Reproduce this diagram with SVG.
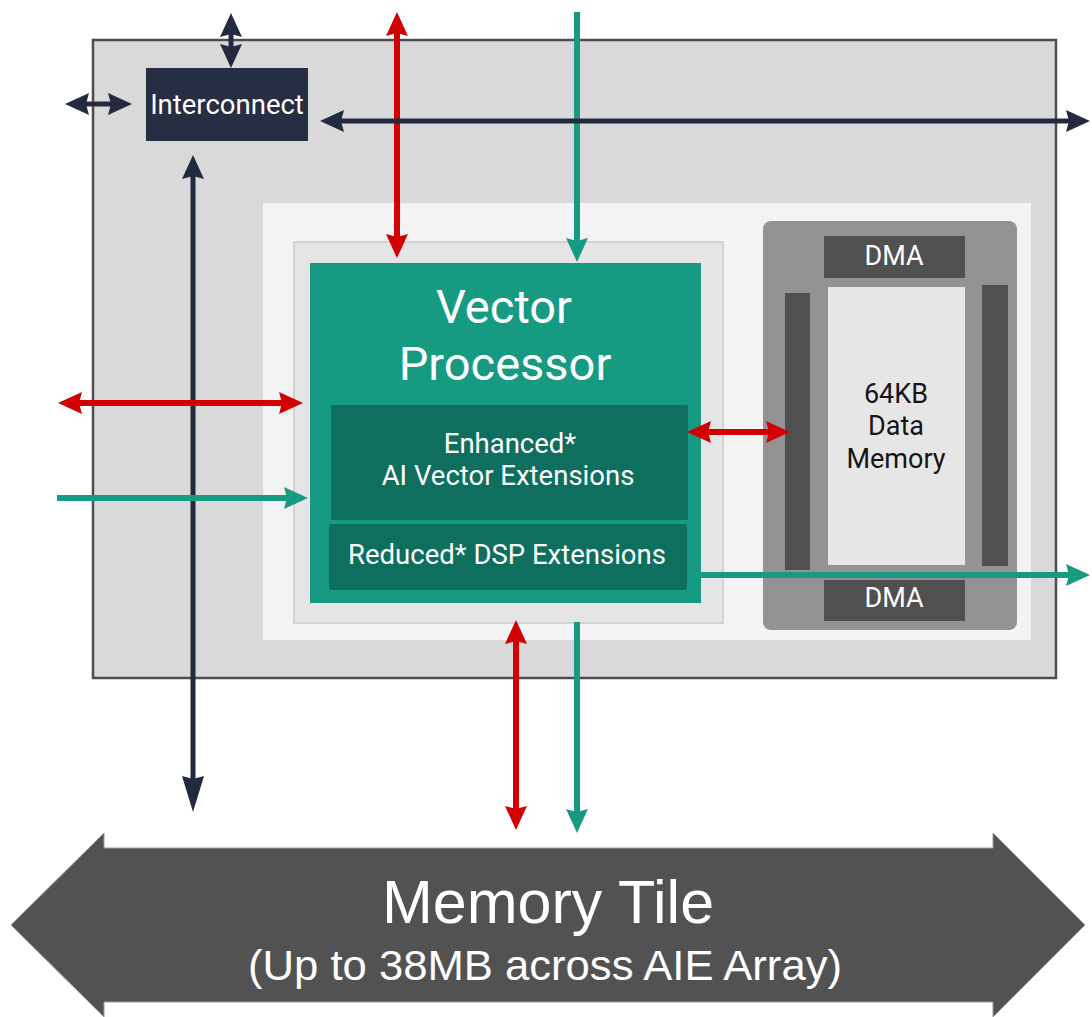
<svg xmlns="http://www.w3.org/2000/svg" width="1092" height="1017" viewBox="0 0 1092 1017">
  <style>
    .lbl { font-family: Roboto, "Liberation Sans", Arial, sans-serif; fill: #ffffff; text-anchor: middle; }
    .dark { fill: #151515; }
    .tile { font-family: "Liberation Sans", Arial, Helvetica, sans-serif; fill: #ffffff; text-anchor: middle; }
    .navy { stroke: #232a40; stroke-width: 5; fill: none; }
    .red { stroke: #d20000; stroke-width: 6; fill: none; }
    .teal { stroke: #169b82; stroke-width: 6; fill: none; }
    .bar { fill: #505050; }
  </style>
  <defs>
    <marker id="ah-navy" viewBox="0 0 24 24" refX="3" refY="12" markerWidth="24" markerHeight="24" markerUnits="userSpaceOnUse" orient="auto-start-reverse">
      <path d="M0,1 L24,12 L0,23 L3,12 z" fill="#232a40"/>
    </marker>
    <marker id="ah-navy-long" viewBox="0 0 36 24" refX="3" refY="12" markerWidth="36" markerHeight="24" markerUnits="userSpaceOnUse" orient="auto-start-reverse">
      <path d="M0,1 L36,12 L0,23 L3,12 z" fill="#232a40"/>
    </marker>
    <marker id="ah-red" viewBox="0 0 24 24" refX="3" refY="12" markerWidth="24" markerHeight="24" markerUnits="userSpaceOnUse" orient="auto-start-reverse">
      <path d="M0,1 L24,12 L0,23 L3,12 z" fill="#d20000"/>
    </marker>
    <marker id="ah-teal" viewBox="0 0 24 24" refX="3" refY="12" markerWidth="24" markerHeight="24" markerUnits="userSpaceOnUse" orient="auto-start-reverse">
      <path d="M0,1 L24,12 L0,23 L3,12 z" fill="#169b82"/>
    </marker>
  </defs>

  <!-- tile enclosure -->
  <g id="tile-frame">
    <rect x="93" y="40" width="963" height="638" fill="#d9d9d9" stroke="#4d4d4d" stroke-width="2.5"/>
    <rect x="263" y="203" width="768" height="437" fill="#f3f3f3"/>
  </g>

  <g id="interconnect">
    <rect x="146" y="68" width="162" height="73" fill="#272d42"/>
    <text class="lbl" x="227" y="114" font-size="27.5">Interconnect</text>
  </g>

  <g id="vector-processor">
    <rect x="294" y="242" width="429" height="381" fill="#e5e5e5" stroke="#d2d2d2" stroke-width="2"/>
    <rect x="310" y="263" width="391" height="340" fill="#169b82"/>
    <text class="lbl" x="504" y="323" font-size="47">Vector</text>
    <text class="lbl" x="505" y="380" font-size="47">Processor</text>
  </g>

  <g id="ai-vector-ext">
    <rect x="331" y="405" width="357" height="115" rx="2" fill="#0e6f5e"/>
    <text class="lbl" x="510" y="453" font-size="27.5">Enhanced*</text>
    <text class="lbl" x="508" y="485" font-size="27.5">AI Vector Extensions</text>
  </g>

  <g id="dsp-ext">
    <rect x="329" y="524" width="358" height="66" rx="2" fill="#0e6f5e"/>
    <text class="lbl" x="507" y="564" font-size="27.5">Reduced* DSP Extensions</text>
  </g>

  <g id="data-memory">
    <rect x="763" y="221" width="254" height="409" rx="8" fill="#939393"/>
    <rect class="bar" x="785" y="293" width="25" height="277"/>
    <rect class="bar" x="982" y="285" width="26" height="281"/>
    <rect x="828" y="287" width="137" height="278" fill="#e6e6e6"/>
    <text class="lbl dark" x="896" y="403" font-size="27">64KB</text>
    <text class="lbl dark" x="896" y="435" font-size="27">Data</text>
    <text class="lbl dark" x="896" y="468" font-size="27">Memory</text>
  </g>

  <g id="dma-top">
    <rect class="bar" x="824" y="236" width="141" height="42"/>
    <text class="lbl" x="894" y="265" font-size="27">DMA</text>
  </g>

  <g id="dma-bottom">
    <rect class="bar" x="824" y="580" width="141" height="41"/>
    <text class="lbl" x="894" y="607" font-size="27">DMA</text>
  </g>

  <g id="memory-tile">
    <polygon points="11,925 104,833 104,848 993,848 993,833 1085,925 993,1017 993,1002 104,1002 104,1017" fill="#525252" stroke="#9a9a9a" stroke-width="1"/>
    <text class="tile" x="548" y="923" font-size="61">Memory Tile</text>
    <text class="tile" x="545" y="980" font-size="42" textLength="594" lengthAdjust="spacingAndGlyphs">(Up to 38MB across AIE Array)</text>
  </g>

  <!-- stream, memory and cascade links -->
  <g id="connectors">
    <line class="navy" x1="193" y1="176" x2="193" y2="779" marker-start="url(#ah-navy)" marker-end="url(#ah-navy-long)"/>
    <line class="red" x1="397" y1="33" x2="397" y2="237" marker-start="url(#ah-red)" marker-end="url(#ah-red)"/>
    <line class="teal" x1="577" y1="12" x2="577" y2="241" marker-end="url(#ah-teal)"/>
    <line class="navy" x1="341" y1="121" x2="1069" y2="121" marker-start="url(#ah-navy)" marker-end="url(#ah-navy)"/>
    <line class="navy" x1="231" y1="34" x2="231" y2="47" marker-start="url(#ah-navy)" marker-end="url(#ah-navy)"/>
    <line class="navy" x1="86" y1="104" x2="111" y2="104" marker-start="url(#ah-navy)" marker-end="url(#ah-navy)"/>
    <line class="red" x1="79" y1="403" x2="282" y2="403" marker-start="url(#ah-red)" marker-end="url(#ah-red)"/>
    <line class="teal" x1="57" y1="498" x2="287" y2="498" marker-end="url(#ah-teal)"/>
    <line class="red" x1="708" y1="432" x2="769" y2="432" marker-start="url(#ah-red)" marker-end="url(#ah-red)"/>
    <line class="teal" x1="700" y1="575" x2="1069" y2="575" marker-end="url(#ah-teal)"/>
    <line class="red" x1="516" y1="641" x2="516" y2="809" marker-start="url(#ah-red)" marker-end="url(#ah-red)"/>
    <line class="teal" x1="577" y1="622" x2="577" y2="812" marker-end="url(#ah-teal)"/>
  </g>
</svg>
